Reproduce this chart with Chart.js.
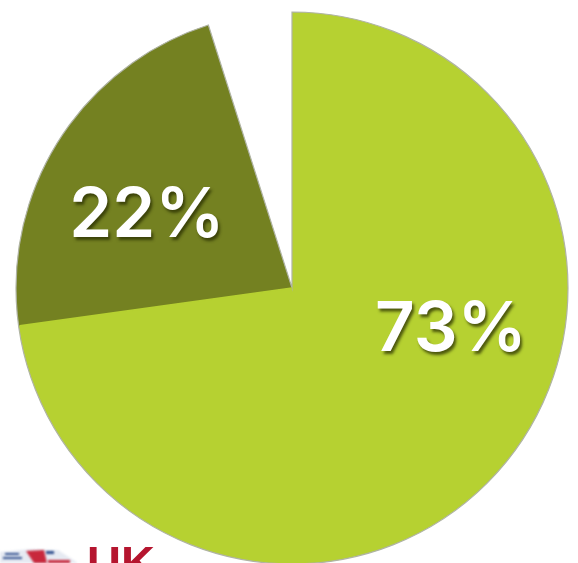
<!DOCTYPE html>
<html>
<head>
<meta charset="utf-8">
<script src="https://cdn.jsdelivr.net/npm/chart.js@4"></script>
<style>
  html, body { margin: 0; padding: 0; background: #fff; overflow: hidden; height: 563px; }
  canvas { display: block; }
</style>
</head>
<body>
<canvas id="pieChart" width="578" height="590"></canvas>
<script>
const categories = ['Yes', 'No', 'Other'];
const shares = [72.8, 22.3, 4.9];
const sliceColors = ['#b6d131', '#748121', 'rgba(255,255,255,0)'];
const sliceLabels = ['73%', '22%', ''];

// Texto das fatias e o pedaço do logo no rodapé
const overlay = {
  id: 'overlay',
  afterDatasetsDraw(chart) {
    const ctx = chart.ctx;
    const spots = [[451, 330], [147, 216]];
    const arcs = chart.getDatasetMeta(0).data;

    // contorno fino só por fora, sem linha entre as duas fatias
    ctx.save();
    ctx.strokeStyle = '#b0b4a4';
    ctx.lineWidth = 1.2;
    const a = arcs[0], b = arcs[1];
    ctx.beginPath();
    ctx.moveTo(a.x, a.y);
    ctx.arc(a.x, a.y, a.outerRadius, a.startAngle, b.endAngle);
    ctx.closePath();
    ctx.stroke();
    ctx.restore();

    ctx.save();
    ctx.strokeStyle = sliceColors[0];
    ctx.lineWidth = 1.6;
    ctx.beginPath();
    ctx.moveTo(a.x, a.y);
    ctx.lineTo(a.x + Math.cos(a.endAngle) * (a.outerRadius - 1), a.y + Math.sin(a.endAngle) * (a.outerRadius - 1));
    ctx.stroke();
    ctx.restore();

    ctx.save();
    ctx.font = '600 69px Inter, "Open Sans", sans-serif';
    ctx.textAlign = 'center';
    ctx.textBaseline = 'middle';
    ctx.fillStyle = '#ffffff';
    ctx.shadowColor = 'rgba(40,45,0,0.75)';
    ctx.shadowBlur = 3;
    ctx.shadowOffsetX = 2;
    ctx.shadowOffsetY = 3;
    sliceLabels.forEach((txt, i) => {
      if (txt) ctx.fillText(txt, spots[i][0], spots[i][1]);
    });
    ctx.restore();

    // bandeira cortada
    ctx.save();
    ctx.filter = 'blur(1px)';
    ctx.fillStyle = '#e6eaf2';
    ctx.beginPath();
    ctx.moveTo(0, 552);
    ctx.lineTo(30, 549);
    ctx.lineTo(58, 550);
    ctx.lineTo(78, 563);
    ctx.lineTo(0, 563);
    ctx.closePath();
    ctx.fill();
    ctx.fillStyle = '#31508f';
    ctx.fillRect(5, 553, 14, 2);
    ctx.fillRect(3, 557, 19, 2);
    ctx.fillRect(46, 551, 8, 3);
    ctx.fillStyle = '#c8283c';
    ctx.beginPath();
    ctx.moveTo(26, 551);
    ctx.lineTo(44, 550);
    ctx.lineTo(47, 563);
    ctx.lineTo(34, 563);
    ctx.closePath();
    ctx.fill();
    ctx.fillRect(48, 560, 22, 3);
    ctx.restore();

    ctx.save();
    ctx.font = 'bold 47px "Liberation Sans", sans-serif';
    ctx.textAlign = 'left';
    ctx.textBaseline = 'alphabetic';
    ctx.fillStyle = '#b5152f';
    ctx.fillText('UK', 87, 579);
    ctx.restore();
  }
};

const pieChart = new Chart(document.getElementById('pieChart'), {
  type: 'pie',
  data: {
    labels: categories,
    datasets: [{
      data: shares,
      backgroundColor: sliceColors,
      borderWidth: 0
    }]
  },
  options: {
    responsive: false,
    animation: false,
    layout: { padding: { left: 16, right: 10, top: 12, bottom: 26 } },
    plugins: {
      legend: { display: false },
      tooltip: { enabled: false }
    }
  },
  plugins: [overlay]
});
</script>
</body>
</html>
